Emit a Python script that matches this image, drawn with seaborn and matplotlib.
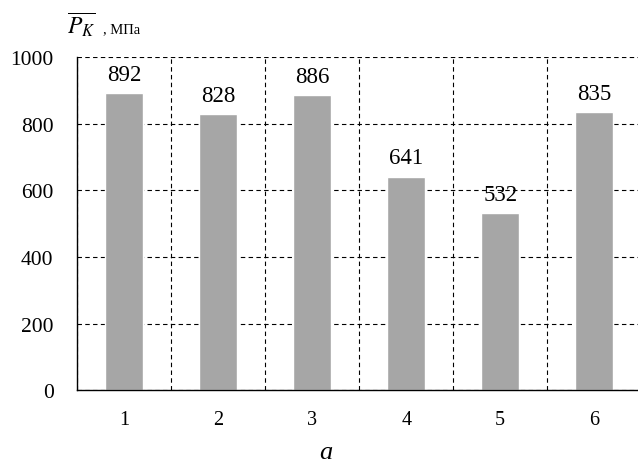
import matplotlib
matplotlib.use("Agg")
import matplotlib.pyplot as plt
from matplotlib.ticker import FixedLocator
import seaborn as sns
import pandas as pd

categories = ["1", "2", "3", "4", "5", "6"]
values = [892, 828, 886, 641, 532, 835]
y_ticks = [0, 200, 400, 600, 800, 1000]

sns.set_style("white")
plt.rcParams["font.family"] = ["Liberation Serif", "DejaVu Serif"]
plt.rcParams["mathtext.fontset"] = "stix"
plt.rcParams["text.color"] = "black"
plt.rcParams["xtick.color"] = "black"
plt.rcParams["ytick.color"] = "black"

df = pd.DataFrame({"cat": categories, "val": values})

fig = plt.figure(figsize=(6.38, 4.64), dpi=100)
ax = fig.add_axes([0.121, 0.157, 0.884, 0.718])

sns.barplot(data=df, x="cat", y="val", color="#a6a6a6", width=0.4,
            saturation=1, ax=ax, zorder=3)

ax.set_ylim(0, 1000)
ax.set_xlim(-0.5, 5.5)
ax.set_yticks(y_ticks)
ax.set_xlabel("")
ax.set_ylabel("")

# category boundaries carry the vertical dashed grid
ax.xaxis.set_minor_locator(FixedLocator([i + 0.5 for i in range(-1, len(categories))]))
ax.grid(True, axis="y", which="major", color="black", linestyle=(0, (4, 3)), linewidth=0.8, zorder=1)
ax.grid(True, axis="x", which="minor", color="black", linestyle=(0, (4, 3)), linewidth=0.8, zorder=1)
ax.grid(False, axis="x", which="major")

ax.tick_params(axis="x", which="major", length=0, labelsize=14.5, pad=14, labelcolor="black")
ax.tick_params(axis="x", which="minor", length=5, width=0.8, direction="out", color="black")
ax.tick_params(axis="y", length=5, width=0.8, direction="out", color="black",
               labelsize=15.5, pad=12, labelcolor="black")

for s in ["top", "right"]:
    ax.spines[s].set_visible(False)
for s in ["left", "bottom"]:
    ax.spines[s].set_color("black")
    ax.spines[s].set_linewidth(1.0)
    ax.spines[s].set_zorder(4)

for i, v in enumerate(values):
    ax.annotate(f"{v}", (i, v), xytext=(0, 6), textcoords="offset points",
                ha="center", va="bottom", fontsize=16.5, color="black", zorder=5)

fig.text(0.105, 0.946, r"$\overline{P_K}$", fontsize=17, ha="left", va="center", color="black")
fig.text(0.161, 0.935, ", МПа", fontsize=10.5, ha="left", va="center", color="black")
fig.text(0.51, 0.024, "a", fontsize=19, style="italic", ha="center", va="center", color="black")

fig.savefig("out.png", dpi=100)
